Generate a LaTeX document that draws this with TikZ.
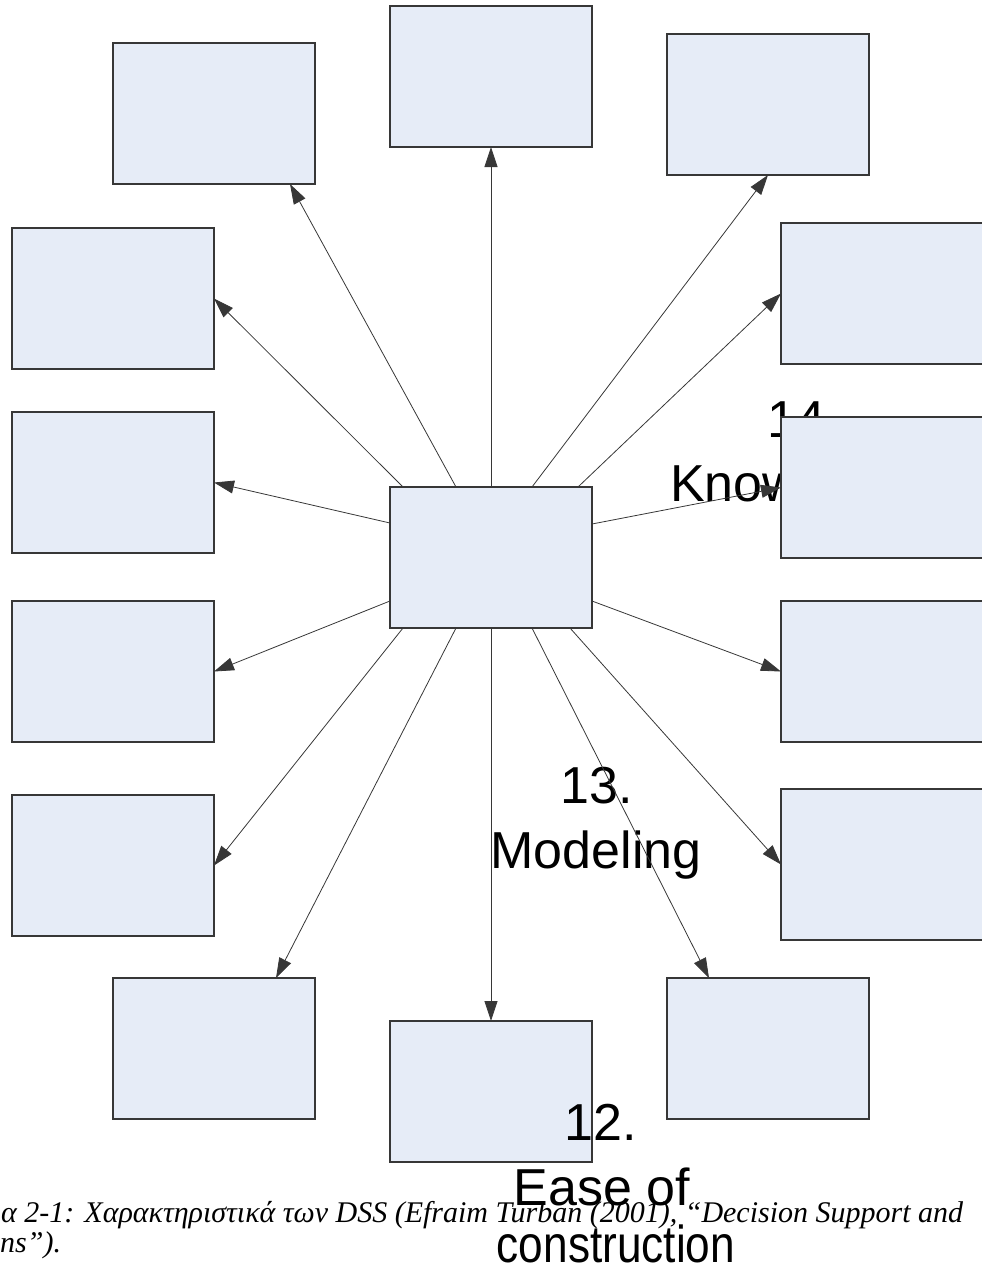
\documentclass[tikz,border=0pt]{standalone}
\usepackage{fontspec}
\setmainfont{Liberation Sans}
\newfontfamily\capfont{Liberation Serif}
\usetikzlibrary{arrows.meta}
\definecolor{boxfill}{RGB}{230,236,247}
\definecolor{boxline}{RGB}{55,55,55}
\definecolor{arrowline}{RGB}{55,55,55}
\tikzset{
  item/.style={draw=boxline, line width=1.2pt, fill=boxfill, anchor=north west,
    minimum width=202pt, minimum height=141pt, inner sep=0pt, outer sep=0pt},
  link/.style={draw=arrowline, line width=0.8pt,
    -{Triangle[length=20pt,width=13pt]}, arrowline},
  big/.style={font=\fontsize{52}{62}\selectfont, inner sep=0pt, anchor=base},
  bigleft/.style={big, anchor=base west},
  captext/.style={font=\capfont\itshape\fontsize{30}{32}\selectfont, inner sep=0pt, anchor=base west}
}
\begin{document}
\begin{tikzpicture}[x=1pt,y=-1pt]
\useasboundingbox (0,0) rectangle (982,1275);

% overflowing label of box 14, partly hidden by the box itself
\node[bigleft] (t14a) at (767,437) {14.};
\node[bigleft] (t14b) at (670,501) {Know};

% centre
\node[item] (c) at (390,487) {};

% top row
\node[item] (tl) at (113,43) {};
\node[item] (tc) at (390,6) {};
\node[item] (tr) at (667,34) {};

% left column
\node[item] (l1) at (12,228) {};
\node[item] (l2) at (12,412) {};
\node[item] (l3) at (12,601) {};
\node[item] (l4) at (12,795) {};

% right column
\node[item] (r1) at (781,223) {};
\node[item] (r2) at (781,417) {};
\node[item] (r3) at (781,601) {};
\node[item, minimum height=151pt] (r4) at (781,789) {};

% bottom row
\node[item] (bl) at (113,978) {};
\node[item] (bc) at (390,1021) {};
\node[item] (br) at (667,978) {};

% labels 12 and 13
\node[big] (t13a) at (597,803) {13.};
\node[big] (t13b) at (596,868) {Modeling};
\node[big] (t12a) at (601,1140) {12.};
\node[big] (t12b) at (602,1205) {Ease of};
\node[big] (t12c) at (616,1262) {\scalebox{0.85}[1]{construction}};

% connectors from the centre box
\draw[link] ([xshift=13pt]c.north west) -- (l1.east);
\draw[link] ([xshift=66pt]c.north west) -- ([xshift=76pt]tl.south);
\draw[link] (c.north) -- (tc.south);
\draw[link] ([xshift=-60pt]c.north east) -- (tr.south);
\draw[link] ([xshift=-14pt]c.north east) -- (r1.west);
\draw[link] ([yshift=-36pt]c.north west) -- (l2.east);
\draw[link] ([yshift=-114pt]c.north west) -- (l3.east);
\draw[link] ([yshift=-37pt]c.north east) -- (r2.west);
\draw[link] ([yshift=-114pt]c.north east) -- (r3.west);
\draw[link] ([xshift=13pt]c.south west) -- (l4.east);
\draw[link] ([xshift=66pt]c.south west) -- ([xshift=62pt]bl.north);
\draw[link] (c.south) -- (bc.north);
\draw[link] ([xshift=-60pt]c.south east) -- ([xshift=-59pt]br.north);
\draw[link] ([xshift=-22pt]c.south east) -- (r4.west);

% caption
\node[captext] (cap1) at (1,1222) {α 2-1: Χαρακτηριστικά των DSS (Efraim Turban (2001), “Decision Support and};
\node[captext] (cap2) at (0,1252) {ns”).};
\end{tikzpicture}
\end{document}
